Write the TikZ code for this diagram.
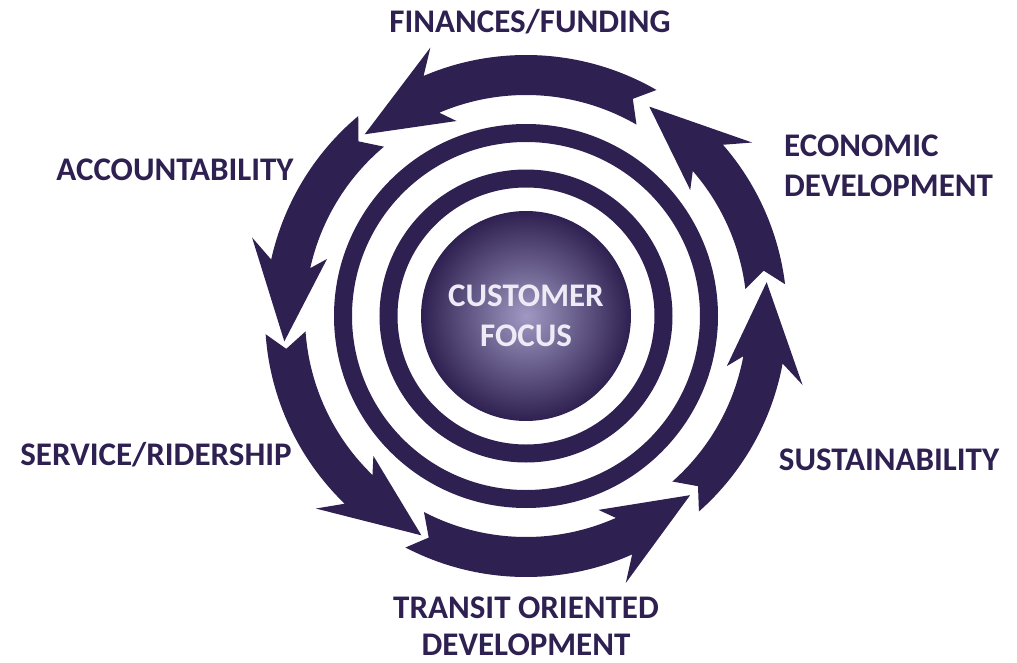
\documentclass[tikz,border=0pt]{standalone}
\usepackage{fontspec}
\setmainfont{Carlito}
\definecolor{navy}{RGB}{46,32,80}
\definecolor{glow}{RGB}{160,153,195}
\definecolor{pale}{RGB}{238,235,246}

\begin{document}
\begin{tikzpicture}[
    x=1pt, y=1pt,
    theme/.style={font=\bfseries\fontsize{33}{40}\selectfont, text=navy, inner sep=0pt, align=center},
    ring/.style={draw=navy, line width=18pt}
]
\useasboundingbox (-526,-346) rectangle (491,316);

\node[circle, minimum size=210pt, inner sep=0pt, inner color=glow, outer color=navy,
      theme, text=pale] (focus) at (0,0) {CUSTOMER\\FOCUS};

\draw[ring] (focus.center) circle[radius=137.5pt];
\draw[ring] (focus.center) circle[radius=183pt];

\foreach \a/\b in {7/59.5, 60/131.6, 130/186, 184/244.5, 242.5/312.5, 311.5/368}
    \fill[navy] (\a:261pt) arc[start angle=\a, end angle=\b-18.5, radius=261pt]
        -- ({\b-22}:285pt) -- (\b:243pt) -- ({\b-22}:207pt) -- ({\b-18.5}:221pt)
        arc[start angle=\b-18.5, end angle=\a, radius=221pt]
        -- ({\a+3.8}:242pt) -- cycle;

\node[theme] (finance) at (4,294) {FINANCES/FUNDING};
\node[theme, anchor=west, align=left] (economic) at (258,150) {ECONOMIC\\DEVELOPMENT};
\node[theme] (account) at (-351,146) {ACCOUNTABILITY};
\node[theme] (service) at (-370,-139) {SERVICE/RIDERSHIP};
\node[theme] (sustain) at (363,-144) {SUSTAINABILITY};
\node[theme, font=\bfseries\fontsize{33}{37}\selectfont] (transit) at (0,-310) {TRANSIT ORIENTED\\DEVELOPMENT};

\end{tikzpicture}
\end{document}
